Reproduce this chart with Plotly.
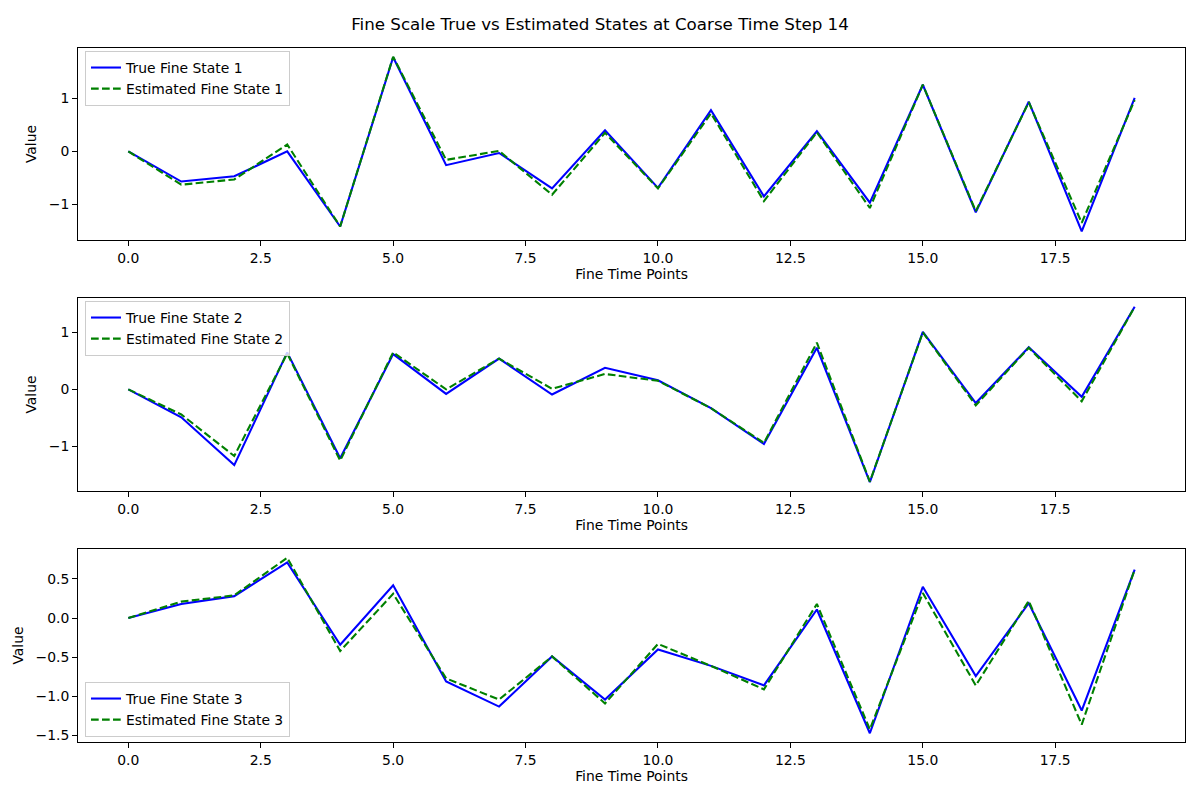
import plotly.graph_objects as go

t = list(range(20))

true1 = [0.0, -0.57, -0.47, 0.0, -1.42, 1.78, -0.26, -0.03, -0.70, 0.40,
         -0.69, 0.78, -0.85, 0.38, -0.97, 1.26, -1.15, 0.94, -1.51, 1.01]
est1 = [0.0, -0.63, -0.53, 0.13, -1.42, 1.79, -0.16, 0.01, -0.82, 0.35,
        -0.70, 0.72, -0.94, 0.36, -1.07, 1.26, -1.13, 0.93, -1.35, 0.97]

true2 = [0.0, -0.49, -1.33, 0.65, -1.21, 0.62, -0.08, 0.54, -0.09, 0.38,
         0.16, -0.33, -0.96, 0.73, -1.63, 1.01, -0.24, 0.74, -0.13, 1.45]
est2 = [0.0, -0.44, -1.17, 0.63, -1.25, 0.65, 0.0, 0.54, 0.01, 0.27,
        0.15, -0.33, -0.94, 0.82, -1.62, 1.00, -0.28, 0.73, -0.21, 1.45]

true3 = [0.0, 0.18, 0.28, 0.71, -0.34, 0.42, -0.81, -1.13, -0.49, -1.04,
         -0.40, -0.61, -0.86, 0.11, -1.47, 0.40, -0.74, 0.19, -1.18, 0.62]
est3 = [0.0, 0.21, 0.29, 0.77, -0.42, 0.31, -0.77, -1.04, -0.49, -1.09,
        -0.33, -0.61, -0.91, 0.18, -1.42, 0.32, -0.86, 0.22, -1.36, 0.62]

x_ticks = [0, 2.5, 5, 7.5, 10, 12.5, 15, 17.5]
x_tick_text = ["0.0", "2.5", "5.0", "7.5", "10.0", "12.5", "15.0", "17.5"]
y_ticks_12 = [-1, 0, 1]
y_ticks_3 = [-1.5, -1.0, -0.5, 0.0, 0.5]

FONT = "DejaVu Sans"
OFF = 8  # default page body margin
W, H = 1200 - OFF, 800 - OFF
# target page-pixel geometry
LEFT, RIGHT, TOP, BOTTOM = 78, 1185, 48, 742
ML, MT = LEFT - OFF, TOP - OFF
MR = W - (RIGHT - OFF)
MB = H - (BOTTOM - OFF)
ph = H - MT - MB
pw = W - ML - MR

def py(px):  # page pixel y -> paper
    return (BOTTOM - px) / ph

def pxx(px):
    return (px - LEFT) / pw

domains = [[py(240), py(48)], [py(491), py(298)], [py(742), py(549)]]

fig = go.Figure()
panels = [(true1, est1, 1), (true2, est2, 2), (true3, est3, 3)]
for tr, es, k in panels:
    suffix = "" if k == 1 else str(k)
    lg = "legend" if k == 1 else "legend" + str(k)
    fig.add_trace(go.Scatter(x=t, y=tr, mode="lines", name=f"True Fine State {k}",
                             line=dict(color="blue", width=2.08),
                             xaxis="x" + suffix, yaxis="y" + suffix, legend=lg))
    fig.add_trace(go.Scatter(x=t, y=es, mode="lines", name=f"Estimated Fine State {k}",
                             line=dict(color="green", width=2.08, dash="7.7px,3.3px"),
                             xaxis="x" + suffix, yaxis="y" + suffix, legend=lg))

axis_common = dict(showline=True, linecolor="black", linewidth=1, mirror=True,
                   ticks="outside", ticklen=4.9, tickwidth=1, tickcolor="black",
                   showgrid=False, zeroline=False, automargin=False,
                   tickfont=dict(family=FONT, size=13.9, color="black"))

layout = dict(width=W, height=H, margin=dict(l=ML, r=MR, t=MT, b=MB, autoexpand=False),
              paper_bgcolor="white", plot_bgcolor="white",
              font=dict(family=FONT, color="black"),
              title=dict(text="Fine Scale True vs Estimated States at Coarse Time Step 14",
                         x=(600 - OFF) / W, xref="container", xanchor="center",
                         y=1 - (24 - OFF) / H, yref="container", yanchor="middle",
                         font=dict(family=FONT, size=16.7, color="black")))

for i, (tr, es, k) in enumerate(panels):
    suffix = "" if k == 1 else str(k)
    allv = tr + es
    lo, hi = min(allv), max(allv)
    span = hi - lo
    yr = [lo - 0.05 * span, hi + 0.05 * span]
    xa = dict(axis_common, domain=[0, 1], range=[-0.95, 19.95],
              tickvals=x_ticks, ticktext=x_tick_text,
              anchor="y" + suffix,
              title=dict(text="Fine Time Points", standoff=4,
                         font=dict(family=FONT, size=13.9, color="black")))
    if k < 3:
        ya = dict(axis_common, domain=domains[i], range=yr,
                  tickvals=y_ticks_12, ticktext=["\u22121", "0", "1"])
    else:
        ya = dict(axis_common, domain=domains[i], range=yr,
                  tickvals=y_ticks_3, tickformat=".1f")
    ya.update(anchor="x" + suffix,
              title=dict(text="Value", standoff=8,
                         font=dict(family=FONT, size=13.9, color="black")))
    layout["xaxis" + suffix] = xa
    layout["yaxis" + suffix] = ya

leg_common = dict(bgcolor="rgba(255,255,255,0.8)", bordercolor="#cccccc", borderwidth=1,
                  font=dict(family=FONT, size=13.9, color="black"),
                  xanchor="left", tracegroupgap=0, itemwidth=30)
layout["legend"] = dict(leg_common, x=pxx(85), y=py(51), yanchor="top")
layout["legend2"] = dict(leg_common, x=pxx(85), y=py(301), yanchor="top")
layout["legend3"] = dict(leg_common, x=pxx(85), y=py(737), yanchor="bottom")

fig.update_layout(**layout)
fig.write_html("out.html")
